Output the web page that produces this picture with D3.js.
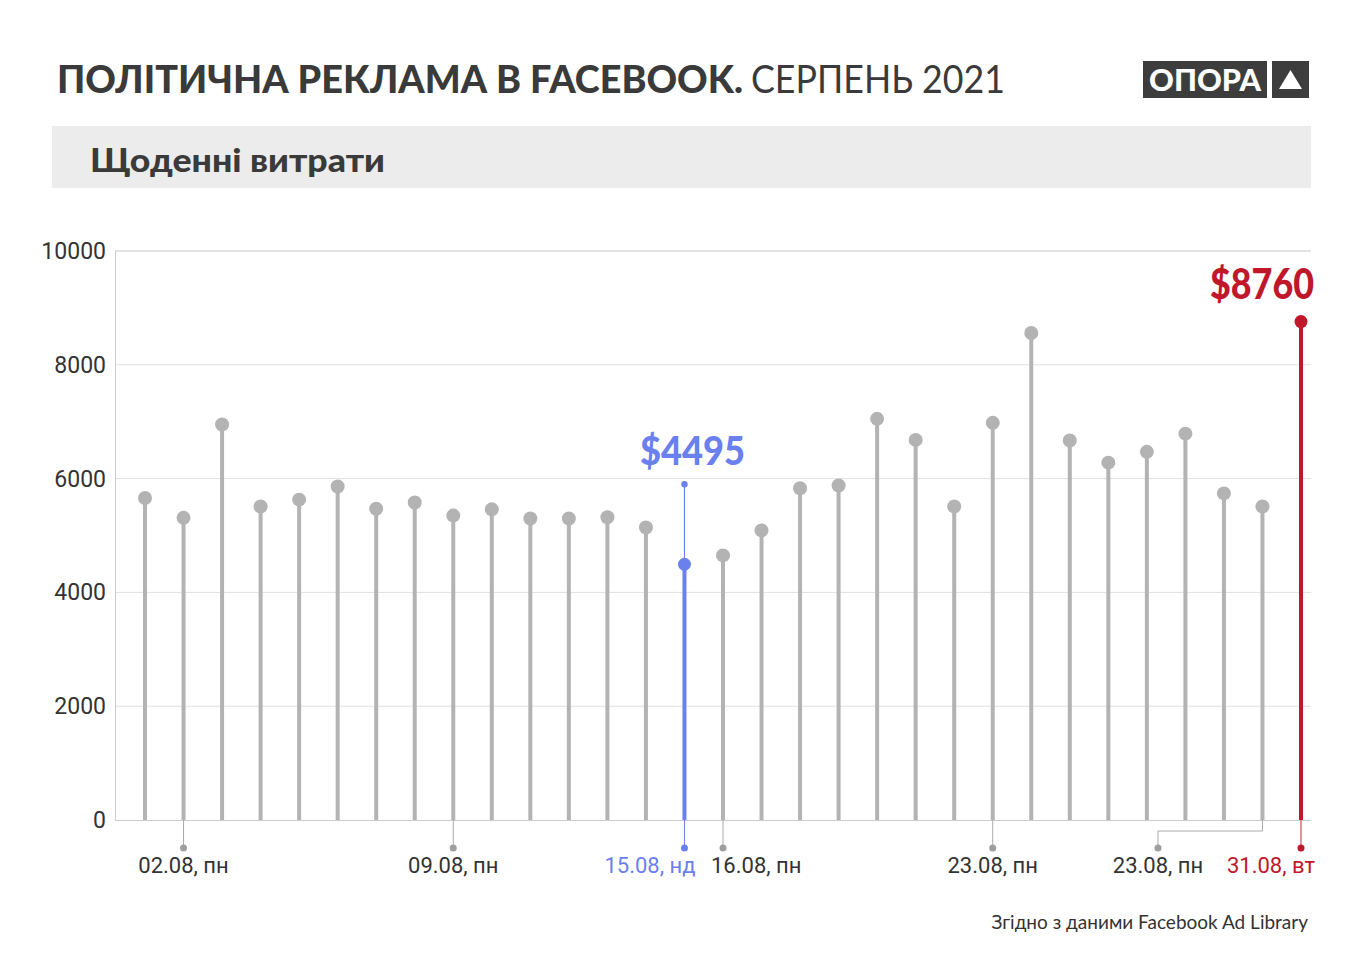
<!DOCTYPE html>
<html>
<head>
<meta charset="utf-8">
<script src="https://cdn.jsdelivr.net/npm/d3@7"></script>
<style>
  html, body { margin: 0; padding: 0; background: #fff; }
  svg { display: block; }
</style>
</head>
<body>
<svg id="chart" width="1366" height="963"></svg>
<script>
// ---- data ----
const days = d3.range(1, 32);
const spend = [5660, 5310, 6950, 5510, 5630, 5860, 5470, 5580, 5350, 5460,
               5300, 5300, 5320, 5140, 4495, 4650, 5090, 5830, 5880, 7050,
               6680, 5510, 6980, 8560, 6670, 6280, 6470, 6790, 5740, 5510, 8760];
const yTicks = [0, 2000, 4000, 6000, 8000, 10000];
const xLabelDays = [2, 9, 15, 16, 23, 30, 31];
const xLabelTexts = ["02.08, пн", "09.08, пн", "15.08, нд", "16.08, пн", "23.08, пн", "23.08, пн", "31.08, вт"];
const blueDay = 15, redDay = 31;
const blueLabel = "$4495", redLabel = "$8760";
const blueLeaderTop = 5900;
const titleBold = "ПОЛІТИЧНА РЕКЛАМА В FACEBOOK.";
const titleRegular = "СЕРПЕНЬ 2021";
const subtitle = "Щоденні витрати";
const sourceText = "Згідно з даними Facebook Ad Library";
const logoText = "ОПОРА";

// ---- styles ----
const GRAY = "#b3b3b3", BLUE = "#6a80ee", RED = "#c0172b", TEXT = "#333333";
const svg = d3.select("#chart");

const x = d3.scaleLinear().domain([1, 31]).range([145, 1301]);
const y = d3.scaleLinear().domain([0, 10000]).range([820, 251]);
const x0 = 115, x1 = 1311;

function fit(sel, w) { sel.attr("textLength", w).attr("lengthAdjust", "spacingAndGlyphs"); }

// title
svg.append("text").attr("x", 57).attr("y", 93)
  .attr("font-family", "Lato, sans-serif").attr("font-weight", 900).attr("font-size", 38)
  .attr("fill", "#3a3a3a").text(titleBold).call(fit, 686);
svg.append("text").attr("x", 751).attr("y", 93)
  .attr("font-family", "Lato, sans-serif").attr("font-weight", 400).attr("font-size", 38)
  .attr("fill", "#3a3a3a").text(titleRegular).call(fit, 254);

// logo
svg.append("rect").attr("x", 1143).attr("y", 61).attr("width", 124).attr("height", 37).attr("fill", "#3d3d3d");
svg.append("rect").attr("x", 1272).attr("y", 61).attr("width", 37).attr("height", 37).attr("fill", "#3d3d3d");
svg.append("text").attr("x", 1205).attr("y", 91).attr("text-anchor", "middle")
  .attr("font-family", "Lato, sans-serif").attr("font-weight", 900).attr("font-size", 31)
  .attr("fill", "#fff").text(logoText).call(fit, 112);
svg.append("path").attr("d", "M1290.5,70 L1302,89 L1279,89 Z").attr("fill", "#fff");

// subtitle band
svg.append("rect").attr("x", 52).attr("y", 126).attr("width", 1259).attr("height", 62).attr("fill", "#ececec");
svg.append("text").attr("x", 90).attr("y", 172)
  .attr("font-family", "Lato, sans-serif").attr("font-weight", 900).attr("font-size", 33)
  .attr("fill", "#3a3a3a").text(subtitle).call(fit, 295);

// grid
const g = svg.append("g");
g.selectAll("line.grid").data(yTicks.filter(d => d > 0)).join("line")
  .attr("x1", x0).attr("x2", x1)
  .attr("y1", d => y(d)).attr("y2", d => y(d))
  .attr("stroke", d => d === 10000 ? "#c4c4c4" : "#e0e0e0").attr("stroke-width", 1);
g.append("line").attr("x1", x0 + 0.5).attr("x2", x0 + 0.5).attr("y1", y(10000)).attr("y2", y(0))
  .attr("stroke", "#cccccc");

// y tick labels
g.selectAll("text.yt").data(yTicks).join("text")
  .attr("x", 106).attr("y", d => y(d) + 8).attr("text-anchor", "end")
  .attr("font-family", "Roboto, sans-serif").attr("font-size", 23).attr("fill", TEXT)
  .text(d => d);

// stems
const colorOf = d => d === blueDay ? BLUE : d === redDay ? RED : GRAY;
const pts = days.map((d, i) => ({ day: d, v: spend[i] }));
g.selectAll("line.stem").data(pts).join("line")
  .attr("x1", d => x(d.day)).attr("x2", d => x(d.day))
  .attr("y1", d => y(d.v)).attr("y2", y(0))
  .attr("stroke", d => colorOf(d.day)).attr("stroke-width", 4);

// baseline
g.append("line").attr("x1", x0).attr("x2", x1).attr("y1", y(0) + 0.5).attr("y2", y(0) + 0.5)
  .attr("stroke", "#cccccc");

// blue leader
g.append("line").attr("x1", x(blueDay)).attr("x2", x(blueDay))
  .attr("y1", y(blueLeaderTop)).attr("y2", y(spend[blueDay - 1]))
  .attr("stroke", BLUE).attr("stroke-width", 1.2);
g.append("circle").attr("cx", x(blueDay)).attr("cy", y(blueLeaderTop)).attr("r", 3.2).attr("fill", BLUE);

// dots
g.selectAll("circle.dot").data(pts).join("circle")
  .attr("cx", d => x(d.day)).attr("cy", d => y(d.v))
  .attr("r", d => d.day === blueDay || d.day === redDay ? 6.5 : 7)
  .attr("fill", d => colorOf(d.day));

// x tick connectors
const tickY = 848;
const labelPos = { 30: 1158 };
xLabelDays.forEach((d, i) => {
  const c = d === blueDay ? BLUE : d === redDay ? "#d9707c" : "#a8a8a8";
  const dotC = d === blueDay ? BLUE : d === redDay ? RED : "#9e9e9e";
  const lx = labelPos[d] !== undefined ? labelPos[d] : x(d);
  if (labelPos[d] !== undefined) {
    g.append("path")
      .attr("d", `M${x(d)},${y(0)} V${y(0) + 11} H${lx} V${tickY}`)
      .attr("fill", "none").attr("stroke", c).attr("stroke-width", 1);
  } else {
    g.append("line").attr("x1", lx).attr("x2", lx).attr("y1", y(0)).attr("y2", tickY)
      .attr("stroke", c).attr("stroke-width", d === redDay ? 1.5 : 1);
  }
  g.append("circle").attr("cx", lx).attr("cy", tickY).attr("r", 3.5).attr("fill", dotC);
  const tcol = d === blueDay ? BLUE : d === redDay ? RED : TEXT;
  const anchor = d === blueDay ? "end" : d === 16 ? "start" : d === redDay ? "end" : "middle";
  const tx = d === blueDay ? lx + 11 : d === 16 ? lx - 12 : d === redDay ? lx + 14 : lx;
  g.append("text").attr("x", tx).attr("y", 873).attr("text-anchor", anchor)
    .attr("font-family", "Roboto, sans-serif").attr("font-size", 22).attr("fill", tcol)
    .text(xLabelTexts[i]);
});

// value annotations
g.append("text").attr("x", x(blueDay) + 8).attr("y", 465).attr("text-anchor", "middle")
  .attr("font-family", "Lato, sans-serif").attr("font-weight", 900).attr("font-size", 39)
  .attr("fill", BLUE).text(blueLabel).call(fit, 105);
g.append("text").attr("x", 1314).attr("y", 299).attr("text-anchor", "end")
  .attr("font-family", "Lato, sans-serif").attr("font-weight", 900).attr("font-size", 42)
  .attr("fill", RED).text(redLabel).call(fit, 104);

// source
svg.append("text").attr("x", 1308).attr("y", 929).attr("text-anchor", "end")
  .attr("font-family", "Lato, sans-serif").attr("font-size", 19).attr("fill", TEXT)
  .text(sourceText);
</script>
</body>
</html>
